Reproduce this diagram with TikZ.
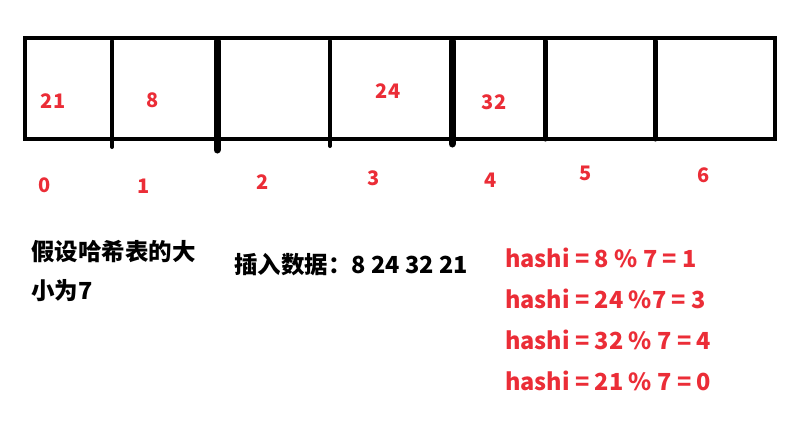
\documentclass[tikz,border=0pt]{standalone}
\usepackage{fontspec}
\setmainfont{Noto Sans CJK SC}
\definecolor{hashred}{RGB}{235,45,55}

\begin{document}
\begin{tikzpicture}[x=1pt, y=-1pt,
  cellval/.style={text=hashred,inner sep=0pt,font=\fontsize{20}{24}\selectfont\bfseries},
  idx/.style={text=hashred,inner sep=0pt,font=\fontsize{20}{24}\selectfont\bfseries},
  note/.style={anchor=west,inner sep=0pt,font=\fontsize{23.5}{28}\selectfont\bfseries},
  hashline/.style={note,text=hashred}]
  \useasboundingbox (0,0) rectangle (808,421);

  % The table with seven slots
  \draw[line width=4pt] (25,38) rectangle (775,139);
  \foreach \xx/\w/\yy in {112/4/147, 217/7/150, 330/4/146, 452/7/144, 545/5/139, 655/5/139} {
    \draw[line width=\w pt, line cap=round] (\xx,41) -- (\xx,\yy);
  }

  % Values stored in the slots
  \node[cellval] (v21) at (53,101) {21};
  \node[cellval] (v8)  at (153,100) {8};
  \node[cellval] (v24) at (388,91) {24};
  \node[cellval] (v32) at (494,102) {32};

  % Slot indices
  \node[idx] (i0) at (45,185) {0};
  \node[idx] (i1) at (144,186) {1};
  \node[idx] (i2) at (263,182) {2};
  \node[idx] (i3) at (374,178) {3};
  \node[idx] (i4) at (491,180) {4};
  \node[idx] (i5) at (586,173) {5};
  \node[idx] (i6) at (704,175) {6};

  % Notes below the table
  \node[note] (size1) at (31,252) {假设哈希表的大};
  \node[note] (size2) at (31,291) {小为7};
  \node[note] (data) at (234,265) {插入数据：8 24 32 21};

  \node[hashline] (h8)  at (505,258) {hashi = 8 \% 7 = 1};
  \node[hashline] (h24) at (505,299) {hashi = 24 \%7 = 3};
  \node[hashline] (h32) at (505,340) {hashi = 32 \% 7 = 4};
  \node[hashline] (h21) at (505,381) {hashi = 21 \% 7 = 0};
\end{tikzpicture}
\end{document}
